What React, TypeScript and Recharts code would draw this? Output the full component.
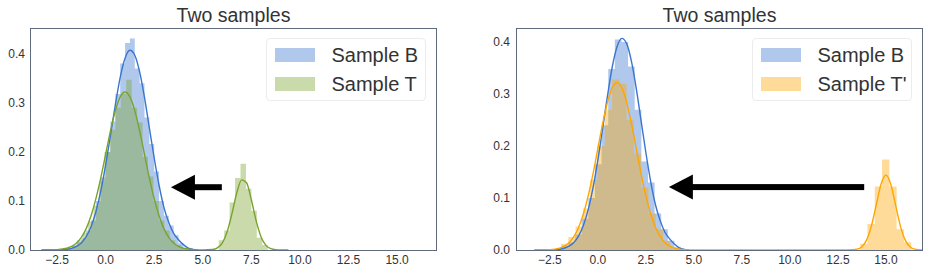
import React from 'react';
import { ComposedChart, Area, Line, XAxis, YAxis, ReferenceLine } from 'recharts';

// axis ticks
const xTicks = [-2.5, 0, 2.5, 5, 7.5, 10, 12.5, 15];
const yTicks = [0, 0.1, 0.2, 0.3, 0.4];

// left panel: histogram of sample B (bin edges, density per bin)
const histBLeftEdges = [-2.0, -1.75, -1.5, -1.25, -1.0, -0.75, -0.5, -0.25, 0, 0.25, 0.5, 0.75, 1.0, 1.25, 1.5, 1.75, 2.0, 2.25, 2.5, 2.75, 3.0, 3.25, 3.5, 3.75, 4.0, 4.25];
const histBLeftHeights = [0.004, 0.008, 0.016, 0.024, 0.04, 0.06, 0.1, 0.148, 0.2, 0.262, 0.318, 0.38, 0.422, 0.431, 0.37, 0.34, 0.27, 0.216, 0.16, 0.1, 0.07, 0.05, 0.03, 0.014, 0.004];

// left panel: histogram of sample T
const histTEdges = [-2.02, -1.74, -1.46, -1.18, -0.9, -0.62, -0.34, -0.06, 0.22, 0.5, 0.78, 1.06, 1.34, 1.62, 1.9, 2.18, 2.46, 2.74, 3.02, 3.3, 3.58, 3.86, 4.14, 5.82, 6.1, 6.38, 6.66, 6.94, 7.22, 7.5, 7.78, 8.06, 8.34];
const histTHeights = [0.004, 0.01, 0.02, 0.035, 0.058, 0.09, 0.14, 0.2, 0.245, 0.29, 0.318, 0.347, 0.29, 0.26, 0.19, 0.15, 0.1, 0.06, 0.04, 0.02, 0.01, 0.004, 0, 0.02, 0.04, 0.097, 0.147, 0.176, 0.125, 0.08, 0.025, 0.01];

// right panel: histogram of sample B
const histBRightEdges = [-2.22, -1.875, -1.53, -1.185, -0.84, -0.495, -0.15, 0.195, 0.54, 0.885, 1.23, 1.575, 1.92, 2.265, 2.61, 2.955, 3.3, 3.645, 3.99, 4.335];
const histBRightHeights = [0.003, 0.008, 0.015, 0.03, 0.06, 0.1, 0.165, 0.24, 0.348, 0.405, 0.4, 0.353, 0.27, 0.17, 0.13, 0.07, 0.04, 0.018, 0.005];

// right panel: histogram of sample T'
const histT2Edges = [-1.92, -1.54, -1.16, -0.78, -0.4, -0.02, 0.36, 0.74, 1.12, 1.5, 1.88, 2.26, 2.64, 3.02, 3.4, 3.78, 4.16, 13.66, 14.04, 14.42, 14.8, 15.18, 15.56, 15.94, 16.32];
const histT2Heights = [0.012, 0.025, 0.045, 0.08, 0.135, 0.2, 0.27, 0.328, 0.32, 0.25, 0.185, 0.12, 0.07, 0.04, 0.018, 0.005, 0, 0.012, 0.05, 0.122, 0.174, 0.122, 0.04, 0.015];

// kde curves
const kdeBX = [-3.3, -3, -2.5, -2, -1.75, -1.5, -1.25, -1, -0.75, -0.5, -0.25, 0, 0.25, 0.5, 0.75, 1, 1.25, 1.5, 1.75, 2, 2.25, 2.5, 2.75, 3, 3.25, 3.5, 3.75, 4, 4.25, 4.5, 4.75];
const kdeBY = [0, 0.0001, 0.0002, 0.0015, 0.0034, 0.0073, 0.0145, 0.0271, 0.0476, 0.078, 0.12, 0.173, 0.234, 0.296, 0.352, 0.391, 0.407, 0.397, 0.363, 0.311, 0.249, 0.1875, 0.132, 0.087, 0.056, 0.034, 0.021, 0.011, 0.004, 0.0013, 0.0003];

const kdeTX = [-3.3, -3, -2.5, -2, -1.75, -1.5, -1.25, -1, -0.75, -0.5, -0.25, 0, 0.25, 0.5, 0.75, 1, 1.25, 1.5, 1.75, 2, 2.25, 2.5, 2.75, 3, 3.25, 3.5, 3.75, 4, 4.5, 5, 5.5, 5.75, 6, 6.25, 6.5, 6.75, 7, 7.25, 7.5, 7.75, 8, 8.25, 8.5, 8.75, 9, 9.4];
const kdeTY = [0, 0.0001, 0.0007, 0.0036, 0.0073, 0.0141, 0.0256, 0.0436, 0.0697, 0.1046, 0.147, 0.195, 0.243, 0.284, 0.312, 0.322, 0.312, 0.284, 0.243, 0.195, 0.147, 0.1046, 0.0697, 0.0436, 0.0256, 0.0141, 0.0073, 0.0036, 0.0007, 0.0001, 0.001, 0.0042, 0.0141, 0.0366, 0.074, 0.1166, 0.143, 0.137, 0.102, 0.059, 0.0267, 0.0094, 0.0026, 0.0005, 0.0001, 0];

const kdeT2X = [-3.3, -3, -2.5, -2, -1.75, -1.5, -1.25, -1, -0.75, -0.5, -0.25, 0, 0.25, 0.5, 0.75, 1, 1.25, 1.5, 1.75, 2, 2.25, 2.5, 2.75, 3, 3.25, 3.5, 3.75, 4, 4.5, 5, 13, 13.5, 13.75, 14, 14.25, 14.5, 14.75, 15, 15.25, 15.5, 15.75, 16, 16.25, 16.5, 16.9];
const kdeT2Y = [0, 0.0001, 0.0007, 0.0036, 0.0073, 0.0141, 0.0256, 0.0436, 0.0697, 0.1046, 0.147, 0.195, 0.243, 0.284, 0.312, 0.322, 0.312, 0.284, 0.243, 0.195, 0.147, 0.1046, 0.0697, 0.0436, 0.0256, 0.0141, 0.0073, 0.0036, 0.0007, 0.0001, 0.0001, 0.0016, 0.0063, 0.0195, 0.0468, 0.0873, 0.127, 0.144, 0.127, 0.0873, 0.0468, 0.0195, 0.0063, 0.0016, 0.0002];

// arrows: [tail x, tip x, y]
const arrowLeft = [5.98, 3.36, 0.128];
const arrowRight = [13.87, 3.7, 0.121];

const BLUE = '#3a75d0';
const GREEN = '#7aa32e';
const ORANGE = '#ffa500';
const FONT = '"Liberation Sans", Arial, sans-serif';
const TEXT = '#333333';
const FRAME = '#5f6b7d';

const steps = (edges: number[], heights: number[]) =>
  edges.map((x, i) => ({ x, y: i < heights.length ? heights[i] : 0 }));
const pairs = (xs: number[], ys: number[]) => xs.map((x, i) => ({ x, y: ys[i] }));

const fmtX = (v: number) => (v < 0 ? '\u2212' + Math.abs(v).toFixed(1) : v.toFixed(1));
const fmtY = (v: number) => v.toFixed(1);

const ArrowShape = (props: any) => {
  const { x1, y1, x2 } = props;
  const headLen = 24;
  const headHalf = 12.5;
  const half = 3;
  const base = x2 + headLen;
  return (
    <g>
      <rect x={base - 1} y={y1 - half} width={x1 - base + 1} height={half * 2} fill="#000" />
      <polygon points={`${x2},${y1} ${base},${y1 - headHalf} ${base},${y1 + headHalf}`} fill="#000" />
    </g>
  );
};

interface PanelProps {
  left: number;
  yWidth: number;
  rightMargin: number;
  xDomain: [number, number];
  yMax: number;
  histB: { x: number; y: number }[];
  histT: { x: number; y: number }[];
  kdeT: { x: number; y: number }[];
  tColor: string;
  tLabel: string;
  arrow: number[];
  legendLeft: number;
  yTickMargin: number;
}

function Panel(p: PanelProps) {
  const plotLeft = p.left + p.yWidth;
  const plotRight = p.left + 465 - p.rightMargin;
  const center = (plotLeft + plotRight) / 2;
  const legendRow = (color: string, label: string, top: number) => (
    <div style={{ position: 'absolute', left: 0, top, height: 20, width: '100%' }}>
      <div style={{ position: 'absolute', left: 8, top: 3, width: 40, height: 14, background: color, opacity: 0.4 }} />
      <div style={{ position: 'absolute', left: 64.5, top: -2.3, fontSize: 20, lineHeight: '24px', color: TEXT, whiteSpace: 'nowrap' }}>{label}</div>
    </div>
  );
  return (
    <div style={{ position: 'absolute', left: p.left, top: 0, width: 465, height: 271 }}>
      <ComposedChart width={465} height={271} margin={{ top: 28, right: p.rightMargin, bottom: 0, left: 0 }}>
        <XAxis
          dataKey="x"
          type="number"
          domain={p.xDomain}
          ticks={xTicks}
          allowDataOverflow
          tickFormatter={fmtX}
          axisLine={false}
          tickLine={false}
          tickSize={0}
          tickMargin={5}
          height={21}
          interval={0}
          tick={{ fontSize: 12, fill: TEXT, fontFamily: FONT }}
        />
        <YAxis
          type="number"
          domain={[0, p.yMax]}
          ticks={yTicks}
          allowDataOverflow
          tickFormatter={fmtY}
          axisLine={false}
          tickLine={false}
          tickSize={0}
          tickMargin={p.yTickMargin}
          width={p.yWidth}
          interval={0}
          tick={{ fontSize: 12, fill: TEXT, fontFamily: FONT }}
        />
        <Area data={p.histB} dataKey="y" type="stepAfter" stroke="none" fill={BLUE} fillOpacity={0.4} isAnimationActive={false} />
        <Area data={p.histT} dataKey="y" type="stepAfter" stroke="none" fill={p.tColor} fillOpacity={0.4} isAnimationActive={false} />
        <Line data={pairs(kdeBX, kdeBY)} dataKey="y" type="monotone" stroke={BLUE} strokeWidth={1.4} dot={false} isAnimationActive={false} />
        <Line data={p.kdeT} dataKey="y" type="monotone" stroke={p.tColor} strokeWidth={1.4} dot={false} isAnimationActive={false} />
        <ReferenceLine
          segment={[{ x: p.arrow[0], y: p.arrow[2] }, { x: p.arrow[1], y: p.arrow[2] }]}
          shape={ArrowShape}
        />
      </ComposedChart>
      <div style={{ position: 'absolute', left: plotLeft - p.left - 1, top: 28, width: plotRight - plotLeft + 2, height: 223, border: `1px solid ${FRAME}`, boxSizing: 'border-box', pointerEvents: 'none' }} />
      <div style={{ position: 'absolute', left: center - p.left - 100, width: 200, top: 4.5, textAlign: 'center', fontSize: 19.5, lineHeight: '20px', color: TEXT, fontFamily: FONT }}>Two samples</div>
      <div style={{ position: 'absolute', left: p.legendLeft - p.left, top: 38, width: 160, height: 63, background: '#fff', border: '1px solid #ececec', borderRadius: 4, boxSizing: 'border-box', fontFamily: FONT }}>
        {legendRow(BLUE, 'Sample B', 6)}
        {legendRow(p.tColor, p.tLabel, 35.3)}
      </div>
    </div>
  );
}

export default function App() {
  return (
    <div style={{ position: 'absolute', left: 0, top: 0, width: 930, height: 271, background: '#fff', fontFamily: FONT }}>
      <Panel
        left={0}
        yWidth={31}
        rightMargin={29}
        xDomain={[-3.84, 17.0]}
        yMax={0.4525}
        histB={steps(histBLeftEdges, histBLeftHeights)}
        histT={steps(histTEdges, histTHeights)}
        kdeT={pairs(kdeTX, kdeTY)}
        tColor={GREEN}
        tLabel="Sample T"
        arrow={arrowLeft}
        legendLeft={266}
        yTickMargin={6}
      />
      <Panel
        left={465}
        yWidth={52}
        rightMargin={8}
        xDomain={[-4.21, 16.88]}
        yMax={0.427}
        histB={steps(histBRightEdges, histBRightHeights)}
        histT={steps(histT2Edges, histT2Heights)}
        kdeT={pairs(kdeT2X, kdeT2Y)}
        tColor={ORANGE}
        tLabel="Sample T'"
        arrow={arrowRight}
        legendLeft={752}
        yTickMargin={7}
      />
    </div>
  );
}
